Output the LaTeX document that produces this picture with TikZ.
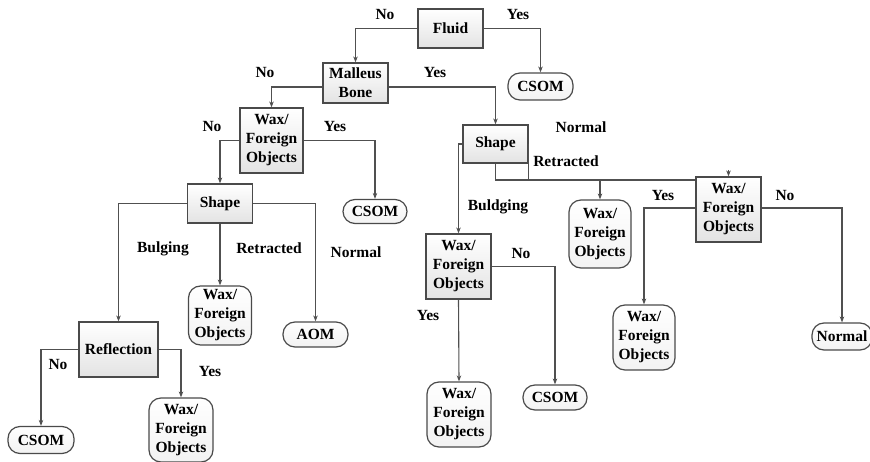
\documentclass[tikz,border=0pt]{standalone}
\usepackage{fontspec}
\setmainfont{Liberation Serif}
\usetikzlibrary{arrows.meta}
\definecolor{wire}{HTML}{505050}
\definecolor{edge}{HTML}{4A4A4A}
\tikzset{
  txt/.style={font=\fontsize{15.5}{19}\selectfont\bfseries, align=center, inner sep=0pt},
  decision/.style={txt, draw=edge, line width=1.2pt, top color=white, bottom color=black!11,
    minimum width=#1},
  decision/.default=65pt,
  leaf/.style={txt, draw=edge, line width=1.2pt, top color=white, bottom color=black!5,
    rounded corners=12pt, minimum width=#1},
  leaf/.default=64pt,
  link/.style={draw=wire, line width=1.1pt},
  arr/.style={link, -{Stealth[length=6pt,width=4.5pt]}},
  lab/.style={txt}
}
\begin{document}
\begin{tikzpicture}[x=1pt,y=-1pt]
\useasboundingbox (0,0) rectangle (870,462);

% decision boxes
\node[decision, minimum height=39pt] (fluid) at (450.5,28.5) {Fluid};
\node[decision, minimum height=40pt] (malleus) at (355.5,83) {Malleus\\Bone};
\node[decision=63pt, minimum height=65pt] (wax1) at (271.5,140.5) {Wax/\\Foreign\\Objects};
\node[decision, minimum height=39pt] (shape1) at (220,203.5) {Shape};
\node[decision=79pt, minimum height=55pt] (refl) at (118.5,349.5) {Reflection};
\node[decision, minimum height=38pt] (shape2) at (495.5,144) {Shape};
\node[decision, minimum height=65pt] (wax5) at (458.5,266.5) {Wax/\\Foreign\\Objects};
\node[decision, minimum height=65pt] (wax6) at (728.5,209.5) {Wax/\\Foreign\\Objects};

% outcome terminals
\node[leaf=65pt, minimum height=27pt] (csom1) at (540.5,86.5) {CSOM};
\node[leaf, minimum height=24pt] (csom2) at (375,211.5) {CSOM};
\node[leaf=63pt, minimum height=59pt] (wax3) at (220,315.5) {Wax/\\Foreign\\Objects};
\node[leaf=65pt, minimum height=25pt] (aom) at (315.5,334.5) {AOM};
\node[leaf=66pt, minimum height=27pt] (csom3) at (41,440) {CSOM};
\node[leaf, minimum height=64pt] (wax4) at (181,430) {Wax/\\Foreign\\Objects};
\node[leaf, minimum height=65pt] (wax9) at (459,414.5) {Wax/\\Foreign\\Objects};
\node[leaf, minimum height=25pt] (csom4) at (555,397.5) {CSOM};
\node[leaf=62pt, minimum height=68pt] (wax7) at (600,234) {Wax/\\Foreign\\Objects};
\node[leaf=62pt, minimum height=65pt] (wax8) at (644,337.5) {Wax/\\Foreign\\Objects};
\node[leaf=60pt, minimum height=27pt] (normal) at (842,336.5) {Normal};

% connectors
\draw[arr] (fluid.west) -| (malleus.north);
\draw[arr] (fluid.east) -| (csom1.north);
\draw[arr] (malleus.east |- 0,87) -| (shape2.north);
\draw[arr] (malleus.west |- 0,87) -| (wax1.north);
\draw[arr] (wax1.west) -| (shape1.north);
\draw[arr] (wax1.east) -| (csom2.north);
\draw[arr] (shape1.west) -| (refl.north);
\draw[arr] (shape1.south) -- (wax3.north);
\draw[arr] (shape1.east) -| (aom.north);
\draw[arr] (refl.west) -| (csom3.north);
\draw[arr] (refl.east) -| (wax4.north);
\draw[arr] (shape2.west) -| (wax5.north);
\coordinate (bus) at (495.5,180);
\draw[arr] (shape2.south) -- (bus) -| (wax7.north);
\draw[link] (shape2.east) -- (shape2.east |- bus) -- (bus -| wax6.west);
\coordinate (stub) at (728.5,170);
\draw[arr] (stub) -- (wax6.north);
\draw[arr] (wax5.east) -| (csom4.north);
\draw[arr] (wax5.south) -- (wax9.north);
\draw[arr] (wax6.west |- 0,208) -| (wax8.north);
\draw[arr] (wax6.east |- 0,208) -| (normal.north);

% branch labels
\node[lab] (l1) at (385,15) {No};
\node[lab] (l2) at (518,15) {Yes};
\node[lab] (l3) at (435,73) {Yes};
\node[lab] (l4) at (265,73) {No};
\node[lab] (l5) at (212,127) {No};
\node[lab] (l6) at (335,127) {Yes};
\node[lab] (l7) at (163,249) {Bulging};
\node[lab] (l8) at (269,248) {Retracted};
\node[lab] (l9) at (356,252) {Normal};
\node[lab] (l10) at (58,365) {No};
\node[lab] (l11) at (210,372) {Yes};
\node[lab] (l12) at (581,127) {Normal};
\node[lab] (l13) at (566,161) {Retracted};
\node[lab] (l14) at (498,207) {Buldging};
\node[lab] (l15) at (663,196) {Yes};
\node[lab] (l16) at (785,196) {No};
\node[lab] (l17) at (521,254) {No};
\node[lab] (l18) at (428,316) {Yes};
\end{tikzpicture}
\end{document}
